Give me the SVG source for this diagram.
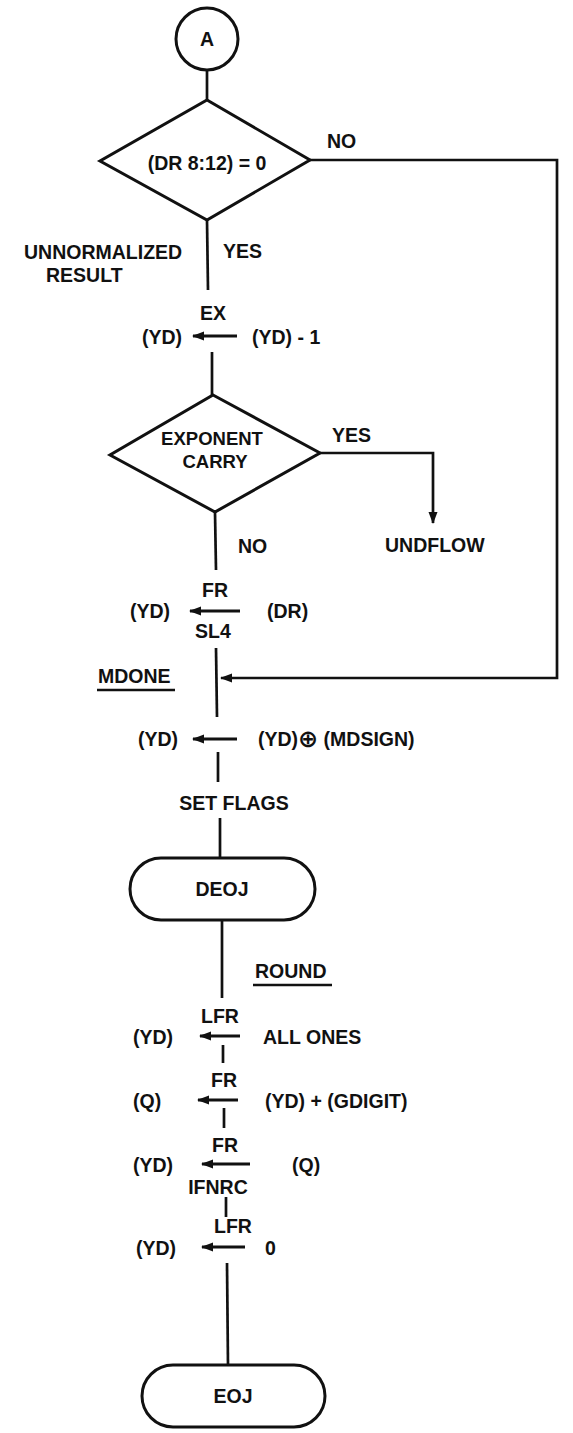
<svg xmlns="http://www.w3.org/2000/svg" width="573" height="1433" viewBox="0 0 573 1433">
<style>
text{font-family:"Liberation Sans",Arial,sans-serif;font-weight:bold;font-size:19.5px;fill:#111}
.m{text-anchor:middle}
.sm{font-size:18.5px}
.shape{fill:none;stroke:#111;stroke-width:3}
.ln{fill:none;stroke:#111;stroke-width:2.7}
.ar{fill:none;stroke:#111;stroke-width:3;marker-end:url(#ah)}
</style>
<defs>
<marker id="ah" markerUnits="userSpaceOnUse" markerWidth="12" markerHeight="10" refX="11" refY="4.5" orient="auto">
<path d="M0,0 L12,4.5 L0,9 z" fill="#111"/>
</marker>
</defs>
<rect width="573" height="1433" fill="#fff"/>
<g id="connectors">
<line class="ln" x1="207" y1="70" x2="207" y2="100"/>
<polyline class="ln" points="310,160 557,160 557,678 221,678" marker-end="url(#ah)"/>
<line class="ln" x1="207" y1="220" x2="208" y2="290"/>
<line class="ln" x1="212" y1="352" x2="212" y2="395"/>
<polyline class="ln" points="320,453 433,453 433,523" marker-end="url(#ah)"/>
<line class="ln" x1="215" y1="512" x2="216" y2="570"/>
<line class="ln" x1="216" y1="648" x2="217" y2="717"/>
<line class="ln" x1="218" y1="752" x2="218" y2="782"/>
<line class="ln" x1="220" y1="818" x2="220" y2="858"/>
<line class="ln" x1="222" y1="920" x2="222" y2="998"/>
<line class="ln" x1="223" y1="1045" x2="223" y2="1063"/>
<line class="ln" x1="224" y1="1108" x2="224" y2="1128"/>
<line class="ln" x1="226" y1="1197" x2="226" y2="1217"/>
<line class="ln" x1="227" y1="1263" x2="228" y2="1365"/>
</g>
<g id="nodeA">
<circle class="shape" cx="207" cy="39" r="31"/>
<text class="m" x="207" y="46">A</text>
</g>
<g id="decision1">
<polygon class="shape" points="207,100 310,160 207,220 100,161"/>
<text class="m" x="207" y="170">(DR 8:12) = 0</text>
<text x="327" y="148">NO</text>
<text x="223" y="258">YES</text>
<text x="24" y="259">UNNORMALIZED</text>
<text x="46" y="282">RESULT</text>
</g>
<g id="step-ex">
<text class="m" x="213" y="320">EX</text>
<text x="142" y="344">(YD)</text>
<line class="ar" x1="237" y1="336" x2="193" y2="336"/>
<text x="252" y="344">(YD) - 1</text>
</g>
<g id="decision2">
<polygon class="shape" points="213,395 320,453 215,512 110,455"/>
<text class="m sm" x="212" y="445">EXPONENT</text>
<text class="m sm" x="215" y="468">CARRY</text>
<text x="332" y="442">YES</text>
<text x="238" y="553">NO</text>
<text x="385" y="552">UNDFLOW</text>
</g>
<g id="step-fr">
<text class="m" x="215" y="597">FR</text>
<text x="130" y="618">(YD)</text>
<line class="ar" x1="240" y1="611" x2="190" y2="611"/>
<text x="267" y="618">(DR)</text>
<text class="m" x="213" y="638">SL4</text>
</g>
<g id="mdone">
<text x="98" y="683">MDONE</text>
<line class="ln" x1="97" y1="690" x2="175" y2="690"/>
<text x="138" y="746">(YD)</text>
<line class="ar" x1="237" y1="739" x2="193" y2="739"/>
<text x="258" y="746">(YD)<tspan font-size="24" font-family="DejaVu Sans,sans-serif" dy="1">⊕</tspan><tspan dy="-1"> (MDSIGN)</tspan></text>
<text class="m" x="234" y="810">SET FLAGS</text>
</g>
<g id="deoj">
<rect class="shape" x="130" y="858" width="185" height="62" rx="31"/>
<text class="m" x="222" y="896">DEOJ</text>
</g>
<g id="round">
<text x="255" y="978">ROUND</text>
<line class="ln" x1="253" y1="985" x2="332" y2="985"/>
<text class="m" x="220" y="1023">LFR</text>
<text x="133" y="1044">(YD)</text>
<line class="ar" x1="240" y1="1036" x2="200" y2="1036"/>
<text x="263" y="1044">ALL ONES</text>
<text class="m" x="224" y="1087">FR</text>
<text x="133" y="1108">(Q)</text>
<line class="ar" x1="238" y1="1100" x2="198" y2="1100"/>
<text x="265" y="1108">(YD) + (GDIGIT)</text>
<text class="m" x="225" y="1152">FR</text>
<text x="133" y="1172">(YD)</text>
<line class="ar" x1="250" y1="1164" x2="202" y2="1164"/>
<text x="292" y="1172">(Q)</text>
<text class="m" x="218" y="1194">IFNRC</text>
<text class="m" x="233" y="1233">LFR</text>
<text x="136" y="1255">(YD)</text>
<line class="ar" x1="245" y1="1247" x2="202" y2="1247"/>
<text x="265" y="1255">0</text>
</g>
<g id="eoj">
<rect class="shape" x="142" y="1365" width="183" height="62" rx="31"/>
<text class="m" x="233" y="1403">EOJ</text>
</g>
</svg>
